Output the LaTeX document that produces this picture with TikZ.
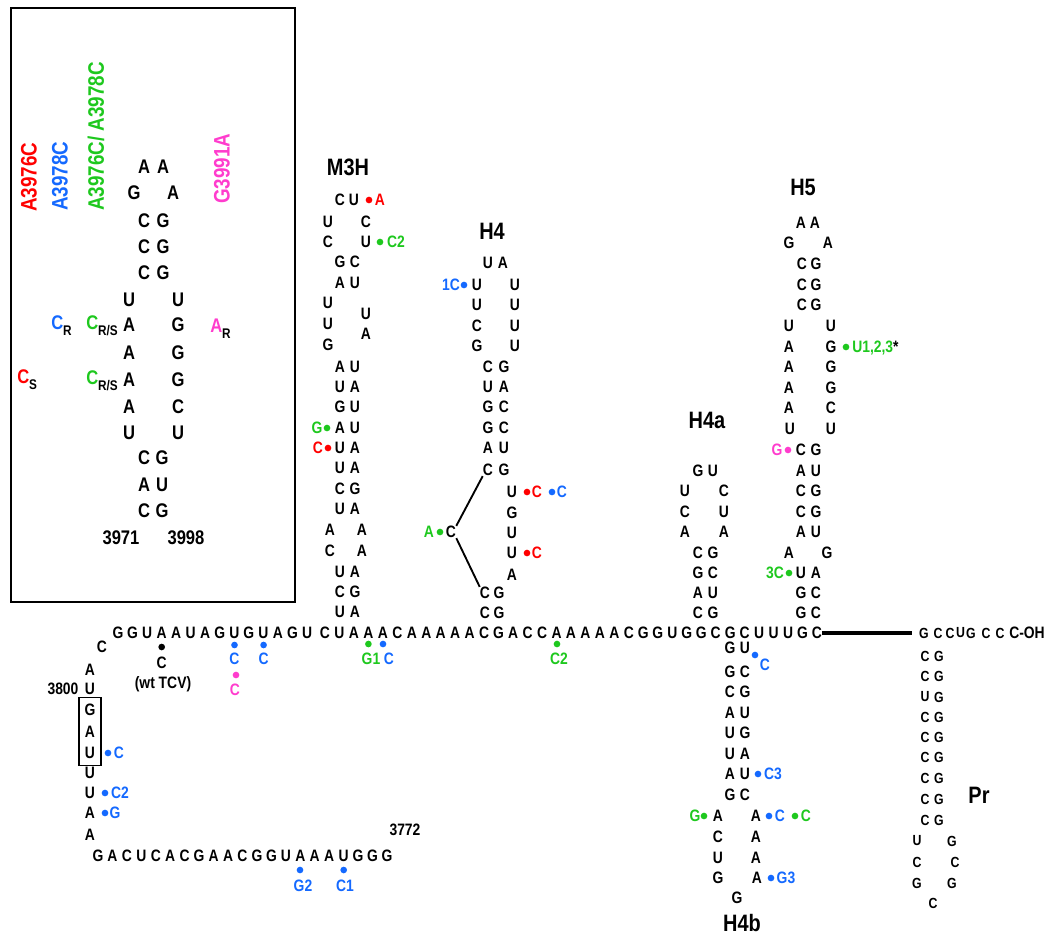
\documentclass[tikz,border=0pt]{standalone}
\usepackage{fontspec}
\setmainfont{Liberation Sans}[FakeStretch=0.84]
\usetikzlibrary{fit}
\definecolor{cred}{RGB}{255,0,0}
\definecolor{cblue}{RGB}{20,105,255}
\definecolor{cgreen}{RGB}{30,200,30}
\definecolor{cmag}{RGB}{255,60,205}
\newcommand{\fbase}{\bfseries\fontsize{12.4}{13}\selectfont}
\newcommand{\ftitle}{\bfseries\fontsize{17.8}{20}\selectfont}
\newcommand{\finset}{\bfseries\fontsize{14.8}{16}\selectfont}
\newcommand{\frot}{\bfseries\fontsize{16.8}{18}\selectfont}
\newcommand{\fpr}{\bfseries\fontsize{11}{12}\selectfont}
\newcommand{\sbs}[1]{\raisebox{-5pt}{\bfseries\fontsize{10.5}{12}\selectfont #1}}
\begin{document}
\begin{tikzpicture}[x=0.75pt,y=-0.75pt,
  nt/.style={inner sep=0pt,font=\fbase},
  it/.style={inner sep=0pt,font=\finset},
  prt/.style={inner sep=0pt,font=\fpr},
  ttl/.style={inner sep=0pt,font=\ftitle},
  lbl/.style={nt,text=#1},
  dot/.style={circle,fill=#1,inner sep=0pt,minimum size=5pt},
  conn/.style={line width=1.4pt},
  thickconn/.style={line width=2.6pt},
  frame/.style={line width=1.1pt}]
\useasboundingbox (0,0) rectangle (1058,936);
% ---------------- inset ----------------
\draw[frame] (11,8) rectangle (295,602);
\node[rotate=90,anchor=west,inner sep=0pt,font=\frot,text=cred] (r1) at (29,212) {A3976C};
\node[rotate=90,anchor=west,inner sep=0pt,font=\frot,text=cblue] (r2) at (60,211) {A3978C};
\node[rotate=90,anchor=west,inner sep=0pt,font=\frot,text=cgreen] (r3) at (96,211) {A3976C/ A3978C};
\node[rotate=90,anchor=west,inner sep=0pt,font=\frot,text=cmag] (r4) at (222,204) {G3991A};
\foreach \x/\y/\tx [count=\i] in {144/167/A,163/167/A,134/193/G,173/193/A,144/221/C,163/221/G,144/247/C,163/247/G,144/273/C,163/273/G,129/300/U,178/300/U,129/325/A,178/325/G,129/353/A,178/353/G,129/380/A,178/380/G,129/407/A,178/407/C,129/433/U,178/433/U,144/458/C,162/458/G,144/485/A,162/485/U,144/511/C,162/511/G}
  \node[it] (in\i) at (\x,\y) {\tx};
\node[it] (n3971) at (121,538) {3971};
\node[it] (n3998) at (186,538) {3998};
\node[anchor=base west,inner sep=0pt,font=\finset] (s1) at (51,329) {\textcolor{cblue}{C}\sbs{R}};
\node[anchor=base west,inner sep=0pt,font=\finset] (s2) at (86,329) {\textcolor{cgreen}{C}\sbs{R/S}};
\node[anchor=base west,inner sep=0pt,font=\finset] (s3) at (210,332) {\textcolor{cmag}{A}\sbs{R}};
\node[anchor=base west,inner sep=0pt,font=\finset] (s4) at (17,383) {\textcolor{cred}{C}\sbs{S}};
\node[anchor=base west,inner sep=0pt,font=\finset] (s5) at (86,384) {\textcolor{cgreen}{C}\sbs{R/S}};
% ---------------- titles ----------------
\node[ttl] (tM3H) at (348,167) {M3H};
\node[ttl] (tH4) at (492,231) {H4};
\node[ttl] (tH4a) at (707,420) {H4a};
\node[ttl] (tH5) at (803,187) {H5};
\node[ttl] (tH4b) at (742,923) {H4b};
\node[ttl] (tPr) at (979,795) {Pr};
% ---------------- baseline ----------------
\foreach \tx [count=\i from 0] in {G,G,U,A,A,U,A,G,U,G,U,A,G,U}
  \node[nt] (b\i) at ({118+14.54*\i},633) {\tx};
\foreach \tx [count=\i from 14] in {C,U,A,A,A,C,A,A,A,A,A,C,G,A,C,C,A,A,A,A,A,C,G,G,U,G,G,C,G,C,U,U,U,G,C}
  \node[nt] (b\i) at ({325+14.47*(\i-14)},633) {\tx};
% ---------------- M3H ----------------
\foreach \x/\y/\tx [count=\i] in {340/200/C,354/200/U,328/222/U,366/222/C,328/242/C,366/242/U,340/262/G,355/262/C,340/283/A,355/283/U,328/303/U,328/324/U,366/314/U,328/345/G,366/334/A,340/367/A,355/367/U,340/387/U,355/387/A,340/407/G,355/407/U,340/428/A,355/428/U,340/448/U,355/448/A,340/468/U,355/468/A,340/489/C,355/489/G,340/509/U,355/509/A,330/530/A,362/530/A,330/551/C,362/551/A,340/572/U,355/572/A,340/592/C,355/592/G,340/612/U,355/612/A}
  \node[nt] (m\i) at (\x,\y) {\tx};
% ---------------- H4 ----------------
\foreach \x/\y/\tx [count=\i] in {488/263/U,503/263/A,477/285/U,515/285/U,477/305/U,515/305/U,477/326/C,515/326/U,477/346/G,515/346/U,488/367/C,504/367/G,488/387/U,504/387/A,488/407/G,504/407/C,488/428/G,504/428/C,488/448/A,504/448/U,488/470/C,504/470/G,512/492/U,512/513/G,512/533/U,512/553/U,512/575/A,451/532/C,485/593/C,499/593/G,485/613/C,499/613/G}
  \node[nt] (h\i) at (\x,\y) {\tx};
\draw[conn] (h28.north east) -- (h21.south west);
\draw[conn] (h28.south east) -- (h29.north west);
% ---------------- H4a ----------------
\foreach \x/\y/\tx [count=\i] in {698/471/G,713/471/U,685/491/U,724/491/C,685/512/C,724/512/U,685/532/A,724/532/A,698/553/C,713/553/G,698/573/G,713/573/C,698/593/A,713/593/U,698/613/C,713/613/G}
  \node[nt] (ha\i) at (\x,\y) {\tx};
% ---------------- H5 ----------------
\foreach \x/\y/\tx [count=\i] in {801/223/A,815/223/A,789/243/G,828/243/A,802/264/C,816/264/G,802/285/C,816/285/G,802/305/C,816/305/G,789/326/U,831/326/U,789/347/A,831/347/G,789/367/A,831/367/G,789/388/A,831/388/G,789/408/A,831/408/C,790/429/U,831/429/U,801/450/C,816/450/G,801/471/A,816/471/U,801/491/C,816/491/G,801/512/C,816/512/G,801/532/A,816/532/U,789/553/A,827/553/G,801/573/U,816/573/A,801/593/G,816/593/C,801/613/G,816/613/C}
  \node[nt] (f\i) at (\x,\y) {\tx};
% ---------------- H4b ----------------
\foreach \x/\y/\tx [count=\i] in {730/648/G,745/648/U,730/672/G,745/672/C,730/692/C,745/692/G,730/713/A,745/713/U,730/733/U,745/733/G,730/754/U,745/754/A,730/774/A,745/774/U,730/795/G,745/795/C,718/816/A,756/816/A,718/837/C,756/837/A,718/858/U,756/858/A,718/878/G,757/878/A,737/898/G}
  \node[nt] (hb\i) at (\x,\y) {\tx};
% ---------------- Pr ----------------
\foreach \x/\y/\tx [count=\i] in {924/633/G,938/633/C,950/633/C,960.5/633/U,971/633/G,986/633/C,1000/633/C}
  \node[prt] (pb\i) at (\x,\y) {\tx};
\node[nt,anchor=base west] (poh) at (1009,638.8) {C-OH};
\foreach \x/\y/\tx [count=\i] in {925/656/C,939/656/G,925/676/C,939/676/G,925/697/U,939/697/G,925/717/C,939/717/G,925/737/C,939/737/G,925/757/C,939/757/G,925/778/C,939/778/G,925/799/C,939/799/G,925/820/C,939/820/G,917/841/U,952/841/G,917/862/C,955/862/C,917/883/G,952/883/G,933/903/C}
  \node[prt] (p\i) at (\x,\y) {\tx};
\draw[thickconn,shorten >=5pt] (b48.east) -- (pb1.west);
% ---------------- 5' strand ----------------
\foreach \x/\y/\tx [count=\i] in {102/647/C,90/670/A,90/689/U,90/710/G,90/732/A,90/753/U,90/773/U,90/793/U,90/813/A,90/835/A}
  \node[nt] (ls\i) at (\x,\y) {\tx};
\node[draw,line width=0.9pt,inner xsep=4pt,inner ysep=5pt,fit=(ls4)(ls6)] (gaubox) {};
\node[nt] (n3800) at (63,689) {3800};
\foreach \tx [count=\i from 0] in {G,A,C,U,C,A,C,G,A,A,C,G,G,U,A,A,A,U,G,G,G}
  \node[nt] (bs\i) at ({98+14.45*\i},856) {\tx};
\node[nt] (n3772) at (405,830) {3772};
% ---------------- mutation labels ----------------
\foreach \x/\y/\cl/\tx [count=\i] in {380/200/cred/A,396/242/cgreen/C2,317/428/cgreen/G,318/448/cred/C,451/285/cblue/1C,537/492/cred/C,562/492/cblue/C,537/553/cred/C,429/532/cgreen/A,777/450/cmag/G,775/573/cgreen/3C,765/665/cblue/C,773/774/cblue/C3,695/816/cgreen/G,780/816/cblue/C,806/816/cgreen/C,786/878/cblue/G3,161.7/663/black/C,234.5/659/cblue/C,263.6/659/cblue/C,235/690/cmag/C,371/659/cgreen/G1,389/659/cblue/C,559/659/cgreen/C2,119/753/cblue/C,120/793/cblue/C2,115/813/cblue/G,303/886/cblue/G2,345/886/cblue/C1}
  \node[lbl=\cl] (lab\i) at (\x,\y) {\tx};
\node[nt] (wt) at (163,684) {(wt TCV)};
\node[nt,anchor=base west] (u123) at (852,352.8) {\textcolor{cgreen}{U1,2,3}*};
\foreach \x/\y/\cl [count=\i] in {369/200/cred,380/242/cgreen,327/428/cgreen,328/448/cred,464/285/cblue,527/492/cred,552/492/cblue,527/553/cred,440/532/cgreen,846/347/cgreen,788/450/cmag,789/573/cgreen,755/655/cblue,758/774/cblue,704/816/cgreen,769/816/cblue,795/816/cgreen,771/878/cblue,161.7/647/black,234.5/645/cblue,263.6/645/cblue,236/675/cmag,368.4/644/cgreen,383/644/cblue,557/644/cgreen,108/753/cblue,105/793/cblue,105/813/cblue,300/870/cblue,343.7/870/cblue}
  \node[dot=\cl] (d\i) at (\x,\y) {};
\end{tikzpicture}
\end{document}
